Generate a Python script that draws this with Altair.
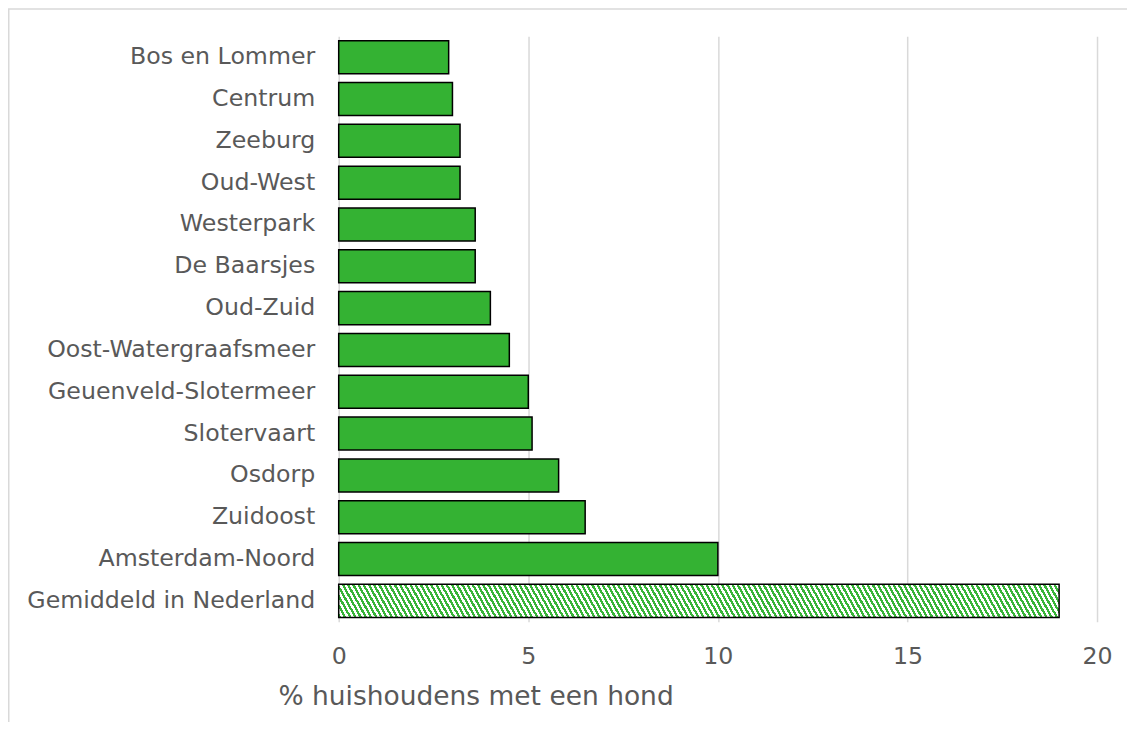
import altair as alt
import pandas as pd

# ---- data ----
districts = [
    "Bos en Lommer", "Centrum", "Zeeburg", "Oud-West", "Westerpark",
    "De Baarsjes", "Oud-Zuid", "Oost-Watergraafsmeer", "Geuenveld-Slotermeer",
    "Slotervaart", "Osdorp", "Zuidoost", "Amsterdam-Noord",
    "Gemiddeld in Nederland",
]
values = [2.9, 3.0, 3.2, 3.2, 3.6, 3.6, 4.0, 4.5, 5.0, 5.1, 5.8, 6.5, 10.0, 19.0]
is_average = [False] * 13 + [True]
x_ticks = [0, 5, 10, 15, 20]

df = pd.DataFrame({"wijk": districts, "pct": values, "gemiddeld": is_average})

# ---- style ----
W, H = 759, 586
FONT = "DejaVu Sans"
TXT = "#595959"
GREEN = "#34b233"
HATCH_GREEN = "#38b438"

# diagonal hatch as a hard-stop linear gradient (objectBoundingBox units)
bar_w = 19.0 / 20.0 * W
bar_h = 33.0
slant = 0.55           # horizontal shift per vertical pixel of a stripe
k = slant * bar_h / bar_w
s = (1 + k) / (1 + k * k)
span = bar_w + slant * bar_h
period = 5.2 / span
stops = []
i = 0
while i * period < 1.0:
    t0 = i * period
    tm = min(t0 + period * 0.5, 1.0)
    t1 = min(t0 + period, 1.0)
    stops += [
        {"offset": t0, "color": HATCH_GREEN},
        {"offset": tm, "color": HATCH_GREEN},
        {"offset": tm, "color": "#ffffff"},
        {"offset": t1, "color": "#ffffff"},
    ]
    i += 1
hatch = {"gradient": "linear", "x1": 0, "y1": 1, "x2": s, "y2": 1 - s * k, "stops": stops}

LABEL_SIZE = 23.7

y_enc = alt.Y(
    "wijk:N",
    sort=districts,
    title=None,
    scale=alt.Scale(paddingInner=0.21, paddingOuter=0.105),
    axis=alt.Axis(
        domain=False, ticks=False, grid=False, labelPadding=24,
        labelFont=FONT, labelFontSize=LABEL_SIZE, labelColor=TXT, labelLimit=400,
    ),
)
x_enc = alt.X(
    "pct:Q",
    scale=alt.Scale(domain=[0, 20], nice=False),
    title="% huishoudens met een hond",
    axis=alt.Axis(
        values=x_ticks, domain=False, ticks=False, tickSize=0,
        grid=True, gridColor="#d9d9d9", gridWidth=1.5,
        labelFlush=False, labelAlign="center",
        labelPadding=23, labelFont=FONT, labelFontSize=LABEL_SIZE, labelColor=TXT,
        titleFont=FONT, titleFontSize=26.5, titleFontWeight="normal", titleColor=TXT,
        titleX=137, titleY=75, titleAlign="center", titleBaseline="middle",
        titleAnchor="start",
    ),
)

base = alt.Chart(df)
bars = base.transform_filter("!datum.gemiddeld").mark_bar(
    fill=GREEN, stroke="black", strokeWidth=1.5
).encode(x=x_enc, y=y_enc)
avg = base.transform_filter("datum.gemiddeld").mark_bar(
    fill=hatch, stroke="black", strokeWidth=1.5
).encode(x=x_enc, y=y_enc)

frame = alt.Chart(pd.DataFrame({"f": [0]})).mark_rect(
    fill=None, stroke="#d9d9d9", strokeWidth=1.5
).encode(
    x=alt.value(-330.25), x2=alt.value(900),
    y=alt.value(-27.25), y2=alt.value(900),
)

chart = alt.layer(frame, bars, avg).properties(
    width=W, height=H,
    autosize=alt.AutoSizeParams(type="none"),
    padding={"left": 331, "top": 28, "right": 30, "bottom": 100},
).configure(background="white", view=alt.ViewConfig(stroke=None))

chart.save("out.html", embed_options={"renderer": "svg", "actions": False})
